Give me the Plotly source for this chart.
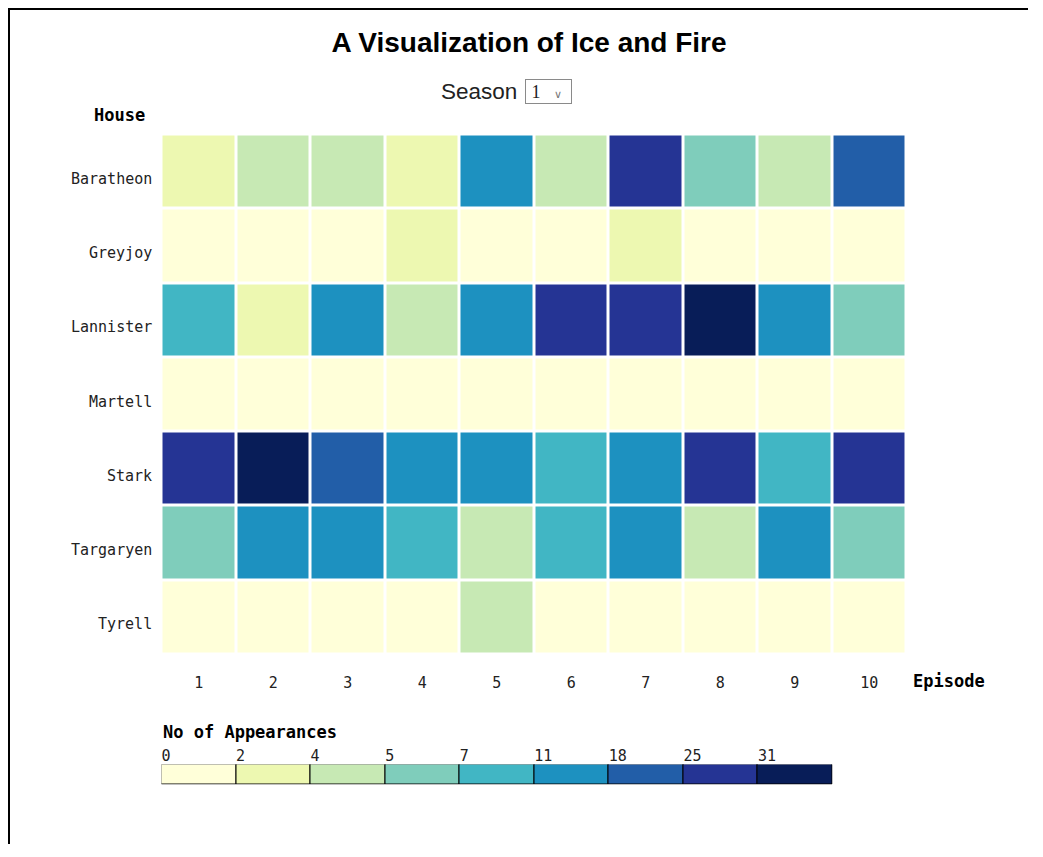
import plotly.graph_objects as go

houses = ["Baratheon", "Greyjoy", "Lannister", "Martell", "Stark", "Targaryen", "Tyrell"]
episodes = [1, 2, 3, 4, 5, 6, 7, 8, 9, 10]

appearances = [
    [3, 4, 4, 2, 14, 4, 27, 6, 4, 20],      # Baratheon
    [0, 1, 0, 3, 0, 0, 2, 0, 1, 0],         # Greyjoy
    [9, 3, 13, 4, 12, 26, 28, 36, 15, 6],   # Lannister
    [0, 0, 0, 0, 0, 0, 0, 0, 0, 0],         # Martell
    [29, 38, 21, 14, 16, 10, 12, 27, 9, 30],# Stark
    [6, 13, 11, 8, 4, 9, 15, 4, 12, 5],     # Targaryen
    [0, 0, 0, 0, 4, 0, 0, 0, 0, 0],         # Tyrell
]

thresholds = [0, 2, 4, 5, 7, 11, 18, 25, 31]
palette = ["#ffffd9", "#edf8b1", "#c7e9b4", "#7fcdbb", "#41b6c4",
           "#1d91c0", "#225ea8", "#253494", "#081d58"]

W, H = 1022, 836
ZMIN, ZMAX = -0.5, 40

def pos(v):
    return (v - ZMIN) / (ZMAX - ZMIN)

colorscale = []
edges = [ZMIN] + [t - 0.5 for t in thresholds[1:]] + [ZMAX]
for i, c in enumerate(palette):
    colorscale.append([pos(edges[i]), c])
    colorscale.append([pos(edges[i + 1]), c])
colorscale[0][0] = 0.0
colorscale[-1][0] = 1.0

mono = "DejaVu Sans Mono"

fig = go.Figure()
fig.add_trace(go.Heatmap(
    z=appearances, x=episodes, y=houses,
    colorscale=colorscale, zmin=ZMIN, zmax=ZMAX,
    xgap=3, ygap=3, showscale=False,
    hovertemplate="House: %{y}<br>Episode: %{x}<br>Appearances: %{z}<extra></extra>",
))

fig.add_trace(go.Bar(
    x=list(range(len(palette))), y=[1] * len(palette), width=1,
    marker=dict(color=palette, line=dict(color="black", width=1)),
    xaxis="x2", yaxis="y2", hoverinfo="skip", showlegend=False,
))

fx = lambda px: (px - 8) / W
fy = lambda py: 1 - (py - 8) / H

fig.update_layout(
    width=W, height=H,
    margin=dict(l=0, r=0, t=0, b=0),
    paper_bgcolor="white", plot_bgcolor="white",
    showlegend=False, bargap=0,
    font=dict(family=mono, color="#222"),
    xaxis=dict(domain=[fx(161.5), fx(906.5)], tickvals=episodes,
               range=[0.5, 10.5], showgrid=False, zeroline=False, showline=False,
               ticks="", ticklabelstandoff=17, tickfont=dict(size=15, family=mono, color="#222"),
               fixedrange=True),
    yaxis=dict(domain=[fy(654.5), fy(134.5)], autorange="reversed",
               showgrid=False, zeroline=False, showline=False, ticks="",
               showticklabels=False, fixedrange=True),
    xaxis2=dict(domain=[fx(161.5), fx(832.5)], anchor="y2", side="top",
                range=[-0.5, 8.5], tickvals=[i - 0.5 for i in range(len(thresholds))],
                ticktext=[str(t) for t in thresholds], ticklabelposition="outside right",
                showgrid=False, zeroline=False, showline=False, ticks="",
                ticklabelstandoff=0, tickfont=dict(size=15, family=mono, color="#222"),
                fixedrange=True),
    yaxis2=dict(domain=[fy(784.5), fy(764.5)], anchor="x2", range=[0, 1],
                visible=False, fixedrange=True),
    title=dict(text="<b>A Visualization of Ice and Fire</b>", x=fx(529), y=fy(42),
               xanchor="center", yanchor="middle",
               font=dict(family="Liberation Sans", size=28, color="black")),
)

annos = [
    dict(text="Season", x=fx(519), y=fy(92), xanchor="right", yanchor="middle",
         font=dict(family="Liberation Sans", size=22.5, color="#222")),
    dict(text="&nbsp;1 &nbsp;&nbsp;<span style='font-size:11px;color:#777'>∨</span>",
         x=fx(525), y=fy(92), xanchor="left", yanchor="middle", align="left",
         width=43, height=21, bordercolor="#8a8a8a", borderwidth=1, borderpad=1,
         font=dict(family="Liberation Serif", size=18, color="#222")),
    dict(text="<b>House</b>", x=fx(119.5), y=fy(115), xanchor="center", yanchor="middle",
         font=dict(family=mono, size=17, color="black")),
    dict(text="<b>Episode</b>", x=fx(911), y=fy(681), xanchor="left", yanchor="middle",
         font=dict(family=mono, size=17, color="black")),
    dict(text="<b>No of Appearances</b>", x=fx(161), y=fy(732), xanchor="left", yanchor="middle",
         font=dict(family=mono, size=17, color="black")),
]
for a in annos:
    a.update(xref="paper", yref="paper", showarrow=False)

for h in houses:
    annos.append(dict(text=h, xref="paper", yref="y", x=fx(154), y=h, xanchor="right",
                      yanchor="middle", yshift=-7, showarrow=False,
                      font=dict(family=mono, size=15, color="#222")))
fig.update_layout(annotations=annos)

# outer frame: top and left edges
xl, yt = 1 / W, 1 - 1 / H
fig.add_shape(type="line", xref="paper", yref="paper", x0=0, x1=1 - 2 / W, y0=yt, y1=yt,
              line=dict(color="black", width=2))
fig.add_shape(type="line", xref="paper", yref="paper", x0=xl, x1=xl, y0=0, y1=1,
              line=dict(color="black", width=2))

fig.write_html("out.html", config={"displayModeBar": False})
